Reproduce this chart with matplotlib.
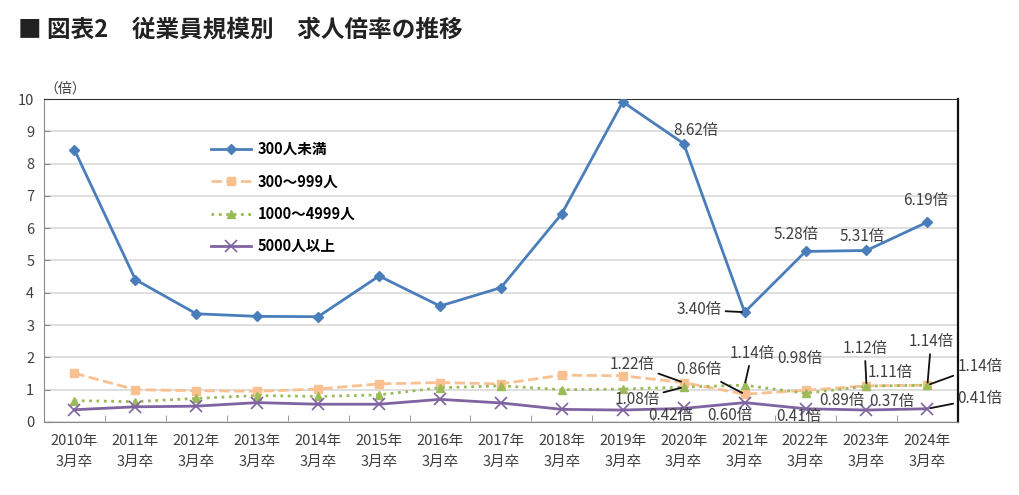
import numpy as np
import matplotlib; matplotlib.use("Agg")
import matplotlib.pyplot as plt
plt.rcParams.update({"font.family": ["Noto Sans CJK JP", "DejaVu Sans"], "font.size": 9})

BLUE = "#4a7ebb"; ORANGE = "#fac090"; GREEN = "#9bbb59"; PURPLE = "#8064a2"; TXT = "#404040"

years = [f"{y}年\n3月卒" for y in range(2010, 2025)]
lt300 = [8.43, 4.41, 3.35, 3.27, 3.26, 4.52, 3.59, 4.16, 6.45, 9.91, 8.62, 3.40, 5.28, 5.31, 6.19]
s300_999 = [1.51, 1.00, 0.97, 0.95, 1.02, 1.18, 1.22, 1.18, 1.45, 1.43, 1.22, 0.86, 0.98, 1.12, 1.14]
s1000_4999 = [0.66, 0.63, 0.73, 0.82, 0.79, 0.84, 1.06, 1.12, 1.00, 1.02, 1.08, 1.14, 0.89, 1.11, 1.14]
ge5000 = [0.38, 0.47, 0.49, 0.60, 0.55, 0.55, 0.70, 0.59, 0.39, 0.37, 0.42, 0.60, 0.41, 0.37, 0.41]

fig = plt.figure(figsize=(10.2, 4.95), dpi=100)
ax = fig.add_axes([0.0431, 0.1475, 0.896, 0.6525])
x = np.arange(len(years))

ax.plot(x, lt300, "-D", color=BLUE, lw=2, ms=5.5, label="300人未満", zorder=5)
ax.plot(x, s300_999, "--s", color=ORANGE, lw=2, ms=6, label="300～999人", zorder=4)
ax.plot(x, s1000_4999, ":^", color=GREEN, lw=2, ms=6, label="1000～4999人", zorder=4)
ax.plot(x, ge5000, "-x", color=PURPLE, lw=2, ms=8, mew=1.2, label="5000人以上", zorder=4)

ax.set_xlim(-0.5, len(years) - 0.5)
ax.set_ylim(0, 10)
ax.set_yticks(range(0, 11))
ax.set_xticks(x)
ax.set_xticklabels(years, color=TXT, fontsize=10.5, linespacing=1.6)
ax.set_xticks(np.arange(-0.5, len(years)), minor=True)
ax.tick_params(axis="x", which="major", length=0, pad=9)
ax.tick_params(axis="x", which="minor", length=5, color="#888888", direction="in")
ax.tick_params(axis="y", length=4, color="#888888", labelsize=10.5, labelcolor=TXT, pad=7, direction="in")
ax.grid(axis="y", color="#d9d9d9", lw=1.2)
ax.set_axisbelow(True)
ax.spines["left"].set_color("#888888"); ax.spines["bottom"].set_color("#888888")
ax.spines["top"].set_color("#333333"); ax.spines["right"].set_color("#111111")
ax.spines["right"].set_linewidth(1.6)
ax.text(0.0, 1.01, "（倍）", transform=ax.transAxes, ha="left", va="bottom", fontsize=10, color=TXT)

# value labels: (series, year index, text x, text y, leader)
series = {"a": lt300, "b": s300_999, "c": s1000_4999, "d": ge5000}
labels = [
    ("a", 10, 10.19, 9.04, False), ("a", 11, 10.25, 3.47, True), ("a", 12, 11.84, 5.79, False),
    ("a", 13, 12.92, 5.74, False), ("a", 14, 13.97, 6.87, False),
    ("b", 10, 9.15, 1.79, True), ("c", 10, 9.23, 0.70, True), ("d", 10, 9.78, 0.19, False),
    ("b", 11, 10.24, 1.61, True), ("c", 11, 11.12, 2.13, True), ("d", 11, 10.76, 0.19, False),
    ("b", 12, 11.91, 1.97, False), ("c", 12, 12.59, 0.68, False), ("d", 12, 11.88, 0.16, False),
    ("b", 13, 12.97, 2.28, True), ("c", 13, 13.38, 1.53, False), ("d", 13, 13.41, 0.63, False),
    ("b", 14, 14.06, 2.49, True), ("c", 14, 14.86, 1.73, True), ("d", 14, 14.86, 0.73, True),
]
for key, i, tx, ty, lead in labels:
    v = series[key][i]
    ap = dict(arrowstyle="-", color="#111111", lw=1.3, shrinkA=1, shrinkB=2) if lead else None
    ax.annotate(f"{v:.2f}倍", xy=(i, v), xytext=(tx, ty), ha="center", va="center",
                fontsize=11, color=TXT, arrowprops=ap, annotation_clip=False, zorder=6)

leg = ax.legend(loc="upper left", bbox_to_anchor=(0.168, 0.91), frameon=False,
                handlelength=2.8, handletextpad=0.4, labelspacing=1.12,
                prop={"weight": "bold", "size": 10.5})

fig.text(0.018, 0.94, "■ 図表2　従業員規模別　求人倍率の推移", fontsize=17, fontweight="bold",
         color="#222222", ha="left", va="center")

fig.savefig("out.png", dpi=100)
